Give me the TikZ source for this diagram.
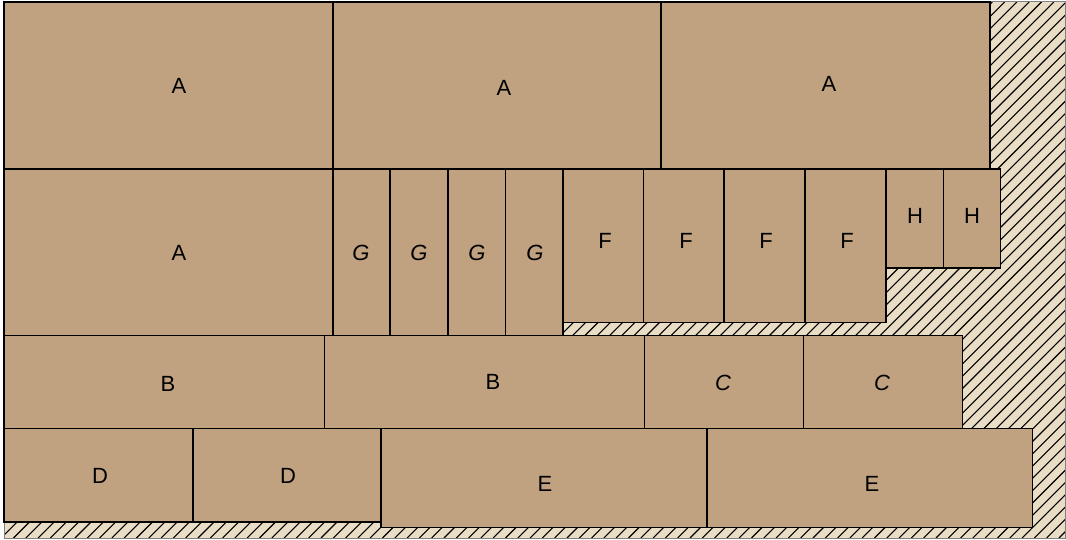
\documentclass[tikz,border=0pt]{standalone}
\usepackage{fontspec}
\setmainfont{Liberation Sans}
\definecolor{tan}{RGB}{192,161,128}
\definecolor{cream}{RGB}{234,221,197}
\tikzset{
  box/.style={draw=black, fill=tan, line width=1.3pt},
  lbl/.style={font=\fontsize{22}{24}\selectfont, inner sep=0pt, anchor=center},
}
\begin{document}
\begin{tikzpicture}[x=1pt,y=-1pt]
\useasboundingbox (0,0) rectangle (1066,540);
% hatched background
\fill[cream] (4,2) rectangle (1065,538);
\begin{scope}
\clip (4,2) rectangle (1065,538);
\foreach \i in {-540,-527.7,...,1070} {
  \draw[black, line width=1.1pt] (\i,538) -- (\i+536,2);
}
\end{scope}
\draw[gray, line width=1pt] (4,2) rectangle (1065,538);
% row 1
\draw[box] (4,2) rectangle (333,169);
\draw[box] (333,2) rectangle (661,169);
\draw[box] (661,2) rectangle (990,169);
% row 2
\draw[box] (4,169) rectangle (333,335.5);
\draw[box] (333,169) rectangle (390,335.5);
\draw[box] (390,169) rectangle (448,335.5);
\draw[box] (448,169) rectangle (505.5,335.5);
\draw[box] (505.5,169) rectangle (563,335.5);
\draw[box] (563,169) rectangle (643.5,322.5);
\draw[box] (643.5,169) rectangle (724,322.5);
\draw[box] (724,169) rectangle (805,322.5);
\draw[box] (805,169) rectangle (886,322.5);
\draw[box] (886,169) rectangle (943.5,268);
\draw[box] (943.5,169) rectangle (1000.5,268);
% row 3
\draw[box] (4,335.5) rectangle (324.5,428.5);
\draw[box] (324.5,335.5) rectangle (644.5,428.5);
\draw[box] (644.5,335.5) rectangle (803.5,428.5);
\draw[box] (803.5,335.5) rectangle (962.5,428.5);
% row 4
\draw[box] (4,428.5) rectangle (193,522);
\draw[box] (193,428.5) rectangle (381,522);
\draw[box] (381,428.5) rectangle (707,527.5);
\draw[box] (707,428.5) rectangle (1032.5,527.5);
% labels
\node[lbl] (a1) at (179,86) {A};
\node[lbl] (a2) at (504,88) {A};
\node[lbl] (a3) at (829,84) {A};
\node[lbl] (a4) at (179,253) {A};
\node[lbl] (g1) at (361,253) {\itshape G};
\node[lbl] (g2) at (419,253) {\itshape G};
\node[lbl] (g3) at (477,253) {\itshape G};
\node[lbl] (g4) at (535,253) {\itshape G};
\node[lbl] (f1) at (605,241) {F};
\node[lbl] (f2) at (686,241) {F};
\node[lbl] (f3) at (766,241) {F};
\node[lbl] (f4) at (847,241) {F};
\node[lbl] (h1) at (915,216) {H};
\node[lbl] (h2) at (972,216) {H};
\node[lbl] (b1) at (168,384) {B};
\node[lbl] (b2) at (493,382) {B};
\node[lbl] (c1) at (723,383) {\itshape C};
\node[lbl] (c2) at (882,383) {\itshape C};
\node[lbl] (d1) at (100,476) {D};
\node[lbl] (d2) at (288,476) {D};
\node[lbl] (e1) at (545,484) {E};
\node[lbl] (e2) at (872,484) {E};
\end{tikzpicture}
\end{document}
